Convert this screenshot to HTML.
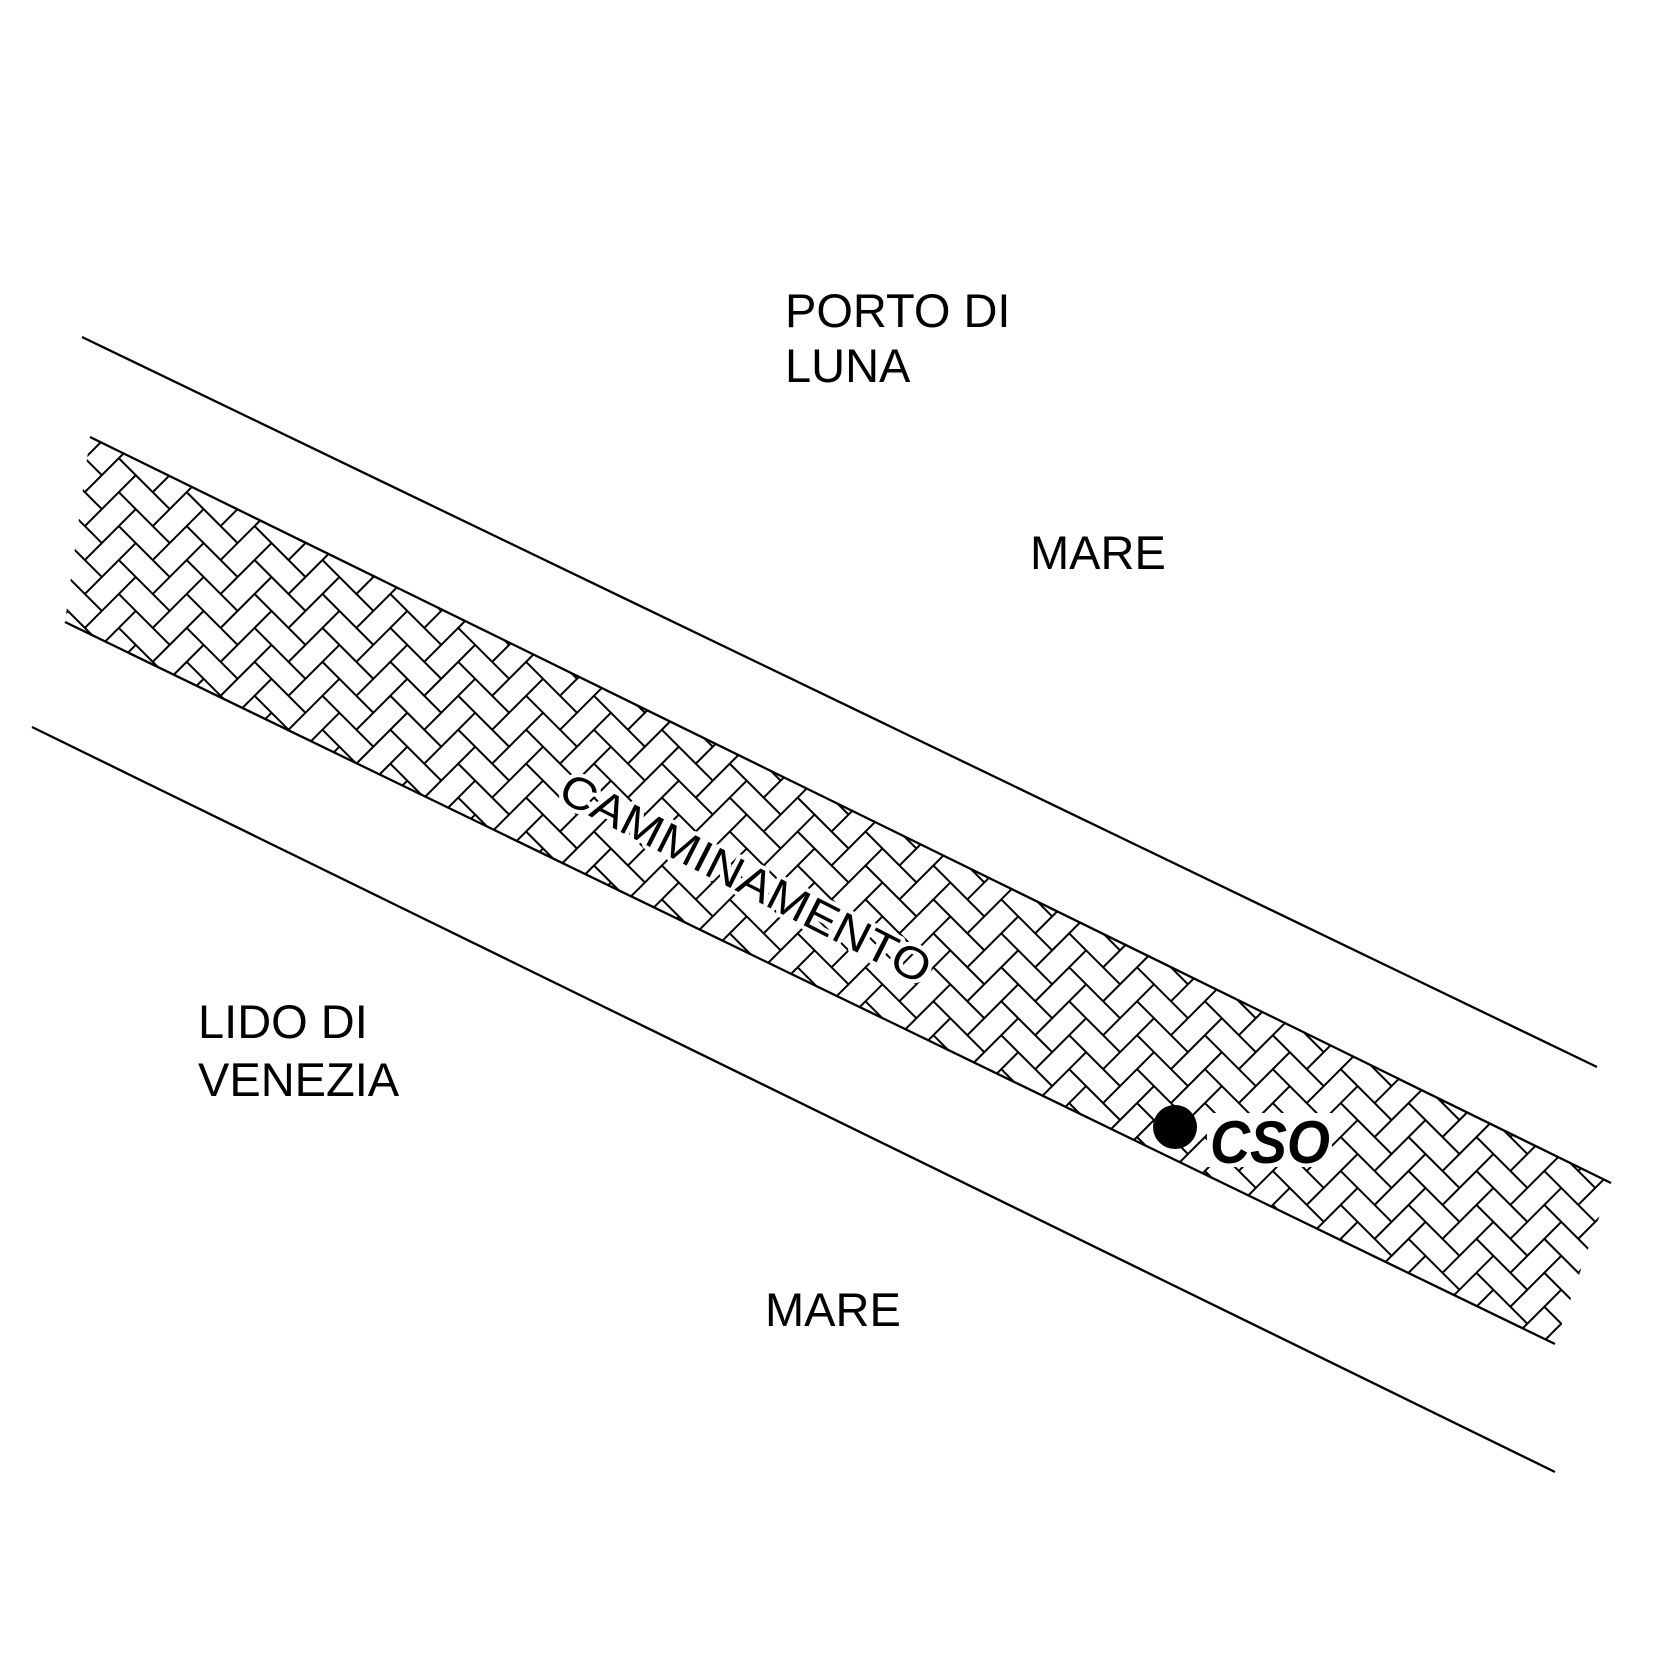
<!DOCTYPE html>
<html><head><meta charset="utf-8"><style>
html,body{margin:0;padding:0;background:#fff;}
svg{display:block;}
text{font-family:"Liberation Sans",sans-serif;fill:#000;}
</style></head><body>
<svg width="1653" height="1653" viewBox="0 0 1653 1653" xmlns="http://www.w3.org/2000/svg">
<defs>
<g id="b" fill="none" stroke="#000" stroke-width="2">
<rect x="0" y="0" width="48" height="24"/>
<rect x="24" y="24" width="48" height="24"/>
<rect x="48" y="48" width="48" height="24"/>
<rect x="72" y="72" width="48" height="24"/>
<rect x="48" y="-24" width="24" height="48"/>
<rect x="72" y="0" width="24" height="48"/>
<rect x="96" y="24" width="24" height="48"/>
<rect x="120" y="48" width="24" height="48"/>
</g>
<pattern id="hb" patternUnits="userSpaceOnUse" width="96" height="96" patternTransform="rotate(45)">
<use href="#b" x="-96" y="-96"/><use href="#b" x="0" y="-96"/><use href="#b" x="96" y="-96"/>
<use href="#b" x="-96" y="0"/><use href="#b" x="0" y="0"/><use href="#b" x="96" y="0"/>
<use href="#b" x="-96" y="96"/><use href="#b" x="0" y="96"/><use href="#b" x="96" y="96"/>
</pattern>
</defs>
<polygon points="90,437 1611,1183 1555,1344 65,622" fill="url(#hb)"/>
<g stroke="#000" stroke-width="2.3" fill="none">
<line x1="82" y1="337" x2="1597" y2="1067"/>
<line x1="90" y1="437" x2="1611" y2="1183"/>
<line x1="65" y1="622" x2="1555" y2="1344"/>
<line x1="32" y1="727" x2="1555" y2="1472"/>
</g>
<text x="785" y="327" font-size="47">PORTO DI</text>
<text x="785" y="382" font-size="47">LUNA</text>
<text x="1030" y="569" font-size="47">MARE</text>
<text x="198" y="1038" font-size="47">LIDO DI</text>
<text x="198" y="1096" font-size="47">VENEZIA</text>
<text x="765" y="1326" font-size="47">MARE</text>
<text transform="translate(556,799) rotate(27)" font-size="45" textLength="410" lengthAdjust="spacingAndGlyphs" stroke="#fff" stroke-width="8" paint-order="stroke" stroke-linejoin="round">CAMMINAMENTO</text>
<rect x="1207" y="1113" width="125" height="54" fill="#fff"/>
<circle cx="1175" cy="1127" r="22" fill="#000"/>
<text x="1210" y="1163" font-size="60" font-weight="bold" font-style="italic" textLength="120" lengthAdjust="spacingAndGlyphs">CSO</text>
</svg>
</body></html>
